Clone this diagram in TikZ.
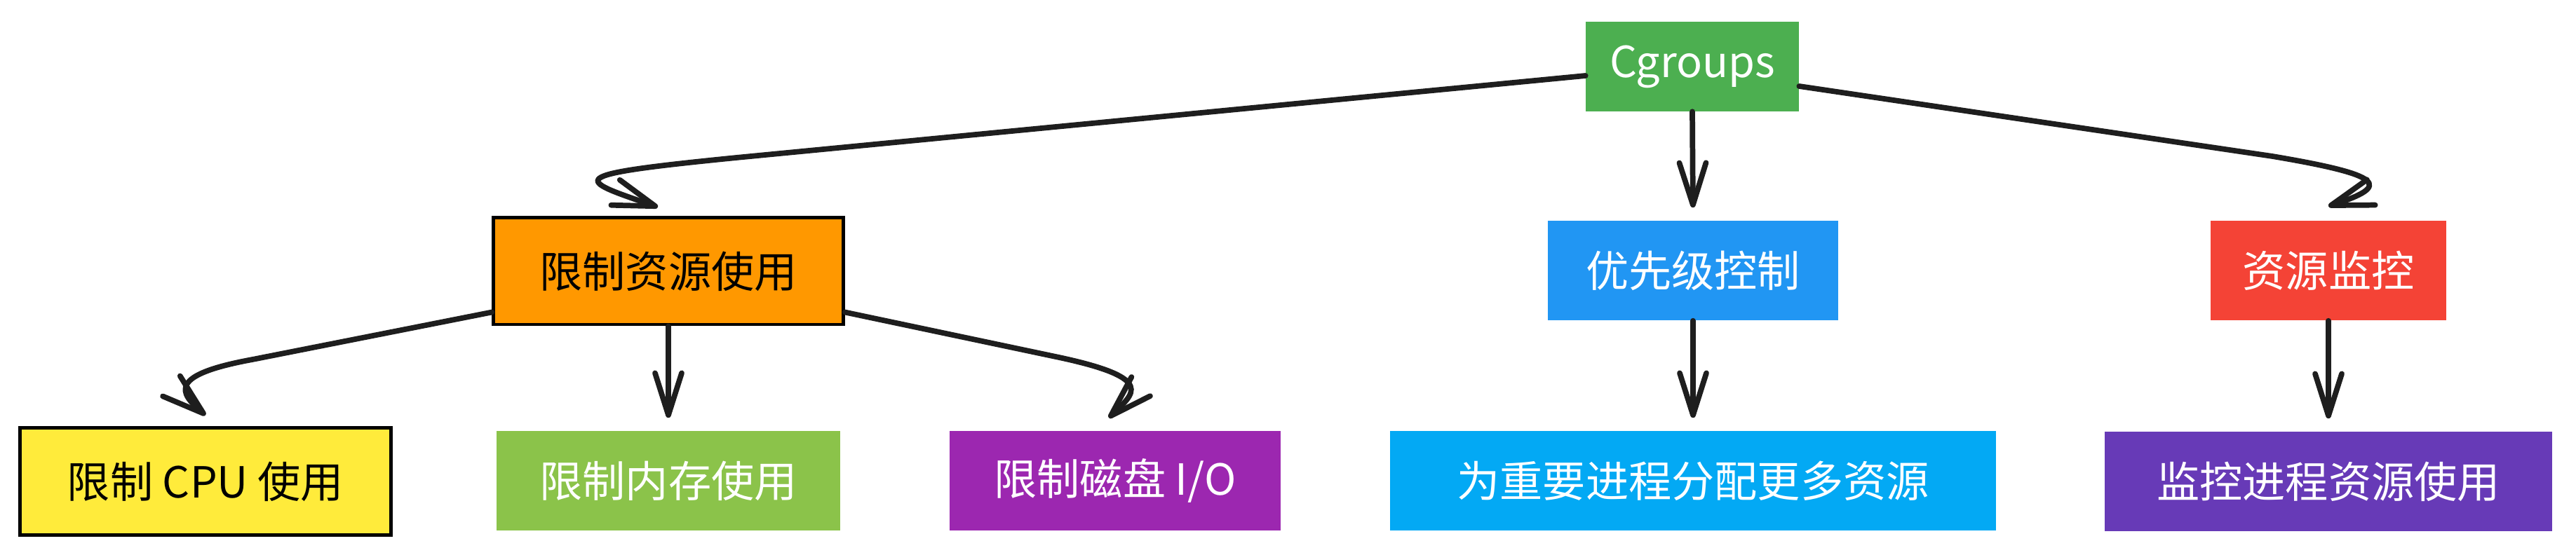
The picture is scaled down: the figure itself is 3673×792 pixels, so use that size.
\documentclass[tikz,border=0pt]{standalone}
\usepackage{fontspec}
\setmainfont{Noto Sans CJK SC}
\usepackage{tikz}
\usetikzlibrary{arrows.meta}

\definecolor{rootGreen}{HTML}{4CAF50}
\definecolor{limitOrange}{HTML}{FF9800}
\definecolor{prioBlue}{HTML}{2196F3}
\definecolor{monRed}{HTML}{F44336}
\definecolor{cpuYellow}{HTML}{FFEB3B}
\definecolor{memGreen}{HTML}{8BC34A}
\definecolor{diskPurple}{HTML}{9C27B0}
\definecolor{boostCyan}{HTML}{03A9F4}
\definecolor{useViolet}{HTML}{673AB7}
\definecolor{ink}{HTML}{1E1E1E}

\begin{document}
\begin{tikzpicture}[x = 0.01cm, y = -0.01cm,
        box/.style = {minimum height = 1.42cm, inner sep = 0pt, text = white, font = \fontsize{17.4}{20}\selectfont},
        inkbox/.style = {box, draw = black, line width = 1.4pt, minimum height = 1.52cm, text = black},
        link/.style = {draw = ink, line width = 2.2pt, line cap = round, -{Straight Barb[length = 6mm, width = 3.8mm, round]}}]
            \useasboundingbox (0, 0) rectangle (3673, 792);
            % top
            \node [box, fill = rootGreen, minimum width = 3.03cm, minimum height = 1.27cm] (root) at (2413, 95) {Cgroups};
            % middle row
            \node [inkbox, fill = limitOrange, minimum width = 4.98cm] (limit) at (953, 387) {限制资源使用};
            \node [box, fill = prioBlue, minimum width = 4.14cm] (prio) at (2414, 386) {优先级控制};
            \node [box, fill = monRed, minimum width = 3.36cm] (mon) at (3320, 386) {资源监控};
            % bottom row
            \node [inkbox, fill = cpuYellow, minimum width = 5.28cm] (cpu) at (293, 687) {限制 CPU 使用};
            \node [box, fill = memGreen, minimum width = 4.89cm] (mem) at (953, 686) {限制内存使用};
            \node [box, fill = diskPurple, minimum width = 4.72cm] (disk) at (1590, 686) {限制磁盘 I/O};
            \node [box, fill = boostCyan, minimum width = 8.63cm] (boost) at (2414, 686) {为重要进程分配更多资源};
            \node [box, fill = useViolet, minimum width = 6.38cm] (usage) at (3320, 687) {监控进程资源使用};
            % links
            \draw [link] ([yshift = -0.13cm]root.west) -- (1050, 225) .. controls (800, 250) and (820, 255) .. ([xshift = -0.15cm, yshift = 0.13cm]limit.north);
            \draw [link, shorten > = 1.8mm] (root.south) -- (prio.north);
            \draw [link] ([yshift = -0.28cm]root.east) -- (3240, 223) .. controls (3400, 250) and (3410, 265) .. ([yshift = 0.2cm]mon.north);
            \draw [link] ([yshift = 0.2cm]limit.south west) -- (360, 513) .. controls (240, 535) and (255, 560) .. ([yshift = 0.16cm]cpu.north);
            \draw [link, shorten > = 1.8mm] (limit.south) -- (mem.north);
            \draw [link] ([yshift = 0.2cm]limit.south east) -- (1510, 510) .. controls (1650, 540) and (1616, 562) .. ([xshift = -0.09cm, yshift = 0.18cm]disk.north);
            \draw [link, shorten > = 1.8mm] (prio.south) -- (boost.north);
            \draw [link, shorten > = 1.8mm] (mon.south) -- (usage.north);
        \end{tikzpicture}
\end{document}
